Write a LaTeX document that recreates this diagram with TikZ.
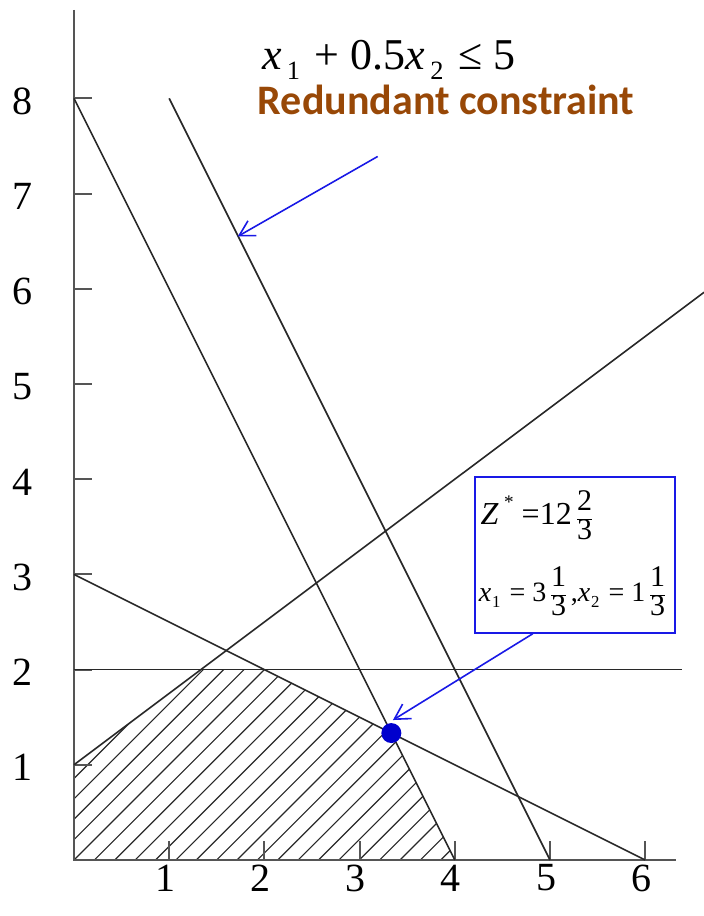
\RequirePackage{fix-cm}
\documentclass[tikz,border=0pt]{standalone}
\usepackage{fontspec}
\setmainfont{Liberation Serif}
\newfontfamily\calibrifont{Carlito}
\usepackage{graphicx}
\usetikzlibrary{arrows.meta,calc}
\definecolor{brownred}{RGB}{152,72,7}
\definecolor{ink}{RGB}{40,40,40}
\definecolor{axisgray}{RGB}{85,85,85}
\definecolor{boxblue}{RGB}{25,25,230}
\definecolor{dotblue}{RGB}{0,0,205}
\setlength{\arrayrulewidth}{1.1pt}
\newcommand{\lsub}[3]{\kern#2\relax\raisebox{-0.22em}{\scalebox{0.6}{#1}}\kern#3\relax}
\newcommand{\boxfrac}[3]{\raisebox{-2pt}{\fontsize{#1}{#1}\selectfont\renewcommand{\arraystretch}{0.9}\setlength{\tabcolsep}{1pt}\begin{tabular}{@{}c@{}}#2\\\hline #3\end{tabular}}}
\begin{document}
\begin{tikzpicture}[x=95.2pt,y=95.2pt,
  axisline/.style={draw=axisgray, line width=2pt},
  cline/.style={draw=ink, line width=1.6pt},
  hatchline/.style={draw=ink, line width=1.1pt},
  ticklbl/.style={font=\fontsize{40}{40}\selectfont, inner sep=0pt, text=black},
  callout/.style={draw=boxblue, line width=1.6pt, -{Straight Barb[length=15pt,width=17pt,line width=1.6pt]}},
]
\useasboundingbox (-0.7773,-0.5882) rectangle (6.6176,9.0336);
% feasible region hatching
\begin{scope}
  \clip (0,0) -- (0,1) -- (4/3,2) -- (2,2) -- (10/3,4/3) -- (4,0) -- cycle;
  \foreach \i in {-11,...,20} \draw[hatchline] (0.214*\i,0) -- ++(3,3);
\end{scope}
% axes
\coordinate (O) at (0,0);
\coordinate (ytop) at (0,8.93);
\coordinate (xend) at (6.32,0);
\draw[axisline] (ytop) -- (O) -- (xend);
\foreach \k in {1,...,8} \draw[axisline] (0,\k) -- ++(0.19,0);
\foreach \k in {1,...,6} \draw[axisline] (\k,0) -- ++(0,0.2);
% constraint lines
\draw[cline] (0,8) -- (4,0);
\draw[cline] (1,8) -- (5,0);
\draw[cline] (0,3) -- (6,0);
\draw[cline] (0,2) -- (6.39,2);
\draw[cline] (0,1) -- (6.6176,5.963);
% tick labels
\foreach \k in {1,...,8} \node[ticklbl] (yl\k) at (-0.54,\k-0.03) {\k};
\foreach \k in {1,...,6} \node[ticklbl] (xl\k) at (\k-0.04,-0.19) {\k};
% texts
\node[anchor=base west, inner sep=0, font=\fontsize{44}{44}\selectfont] (cons) at (1.975,8.30)
  {\textit{x}\lsub{1}{5pt}{4pt} + 0.5\textit{x}\lsub{2}{5pt}{4pt} ≤ 5};
\node[anchor=base west, inner sep=0, font=\calibrifont\bfseries\fontsize{42}{42}\selectfont, text=brownred] (red) at (1.93,7.83)
  {Redundant constraint};
% result box
\node[draw=boxblue, line width=1.6pt, minimum width=200pt, minimum height=156pt, inner sep=0] (box) at (5.263,3.204) {};
\node[anchor=base west, inner sep=0, font=\fontsize{32}{32}\selectfont] (zline) at (4.27,3.52)
  {\textit{Z}\,\raisebox{0.5em}{\scalebox{0.6}{*}} =12\,\boxfrac{30}{2}{3}};
\node[anchor=base west, inner sep=0, font=\fontsize{28}{28}\selectfont] (xline) at (4.25,2.72)
  {\textit{x}\lsub{1}{1pt}{2pt} = 3\,\boxfrac{30}{1}{3}\,,\textit{x}\lsub{2}{1pt}{2pt} = 1\,\boxfrac{30}{1}{3}};
% optimum and callouts
\node[circle, fill=dotblue, inner sep=0, minimum size=20pt] (opt) at (10/3,4/3) {};
\coordinate (a1s) at (3.19,7.39);
\coordinate (a1e) at (1.72,6.55);
\draw[callout] (a1s) -- (a1e);
\coordinate (a2s) at ($(box.south west)!0.29!(box.south east)$);
\coordinate (a2e) at (3.35,1.47);
\draw[callout] (a2s) -- (a2e);
\end{tikzpicture}
\end{document}
